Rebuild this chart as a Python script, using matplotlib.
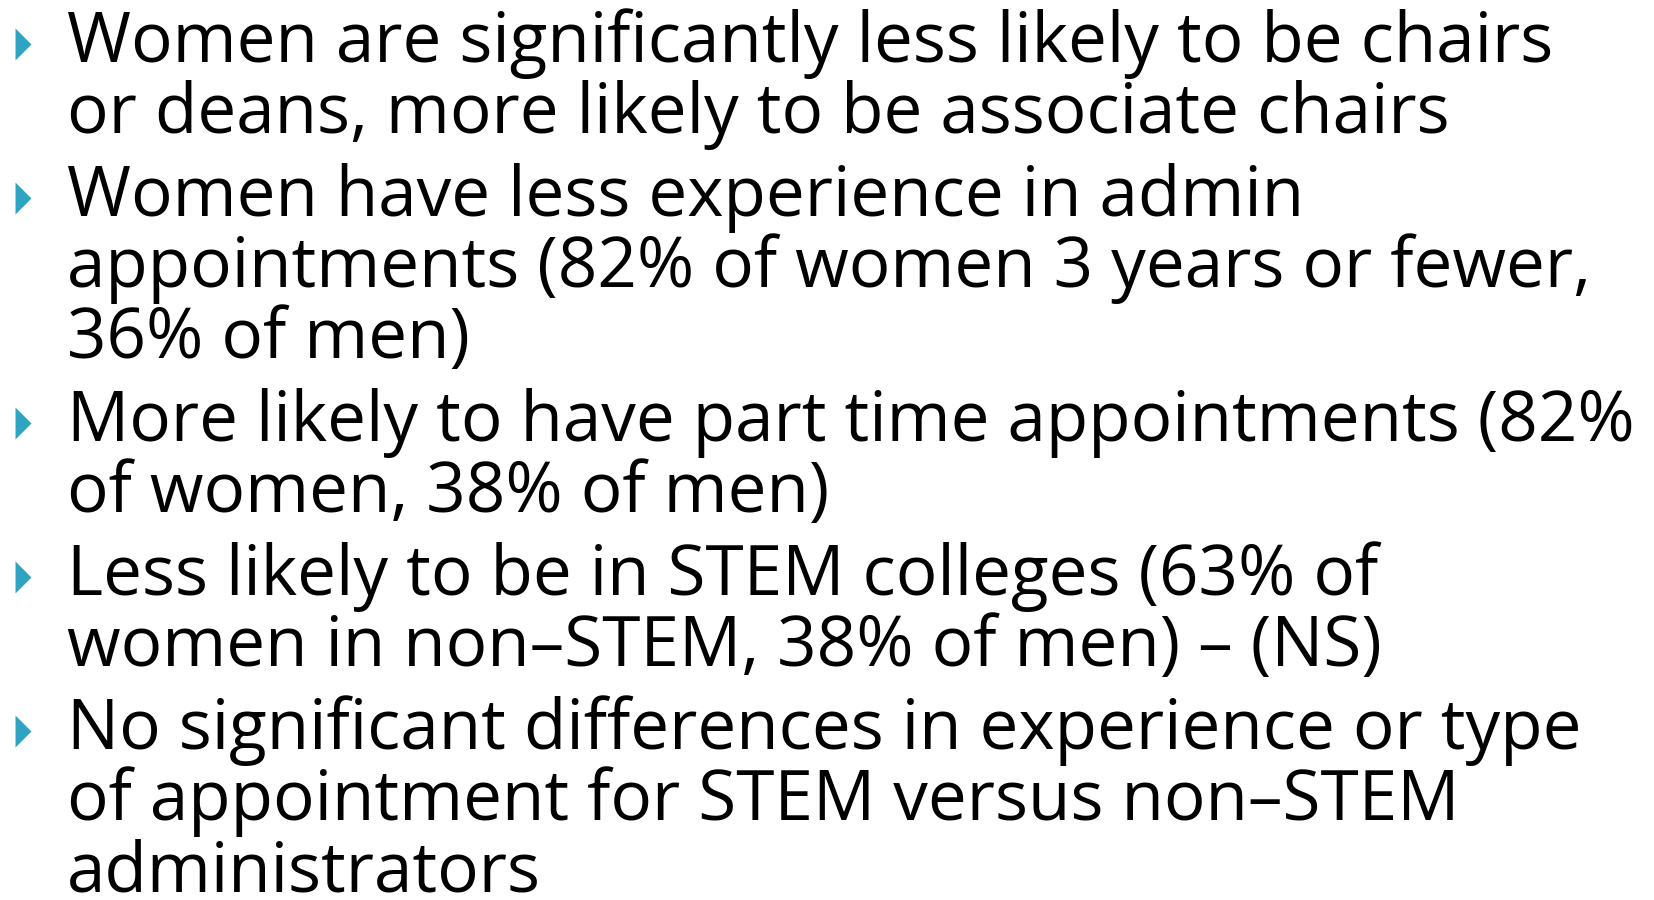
import matplotlib
matplotlib.use("Agg")
import matplotlib.pyplot as plt

# slide text, one list of wrapped lines per bullet
bullet_1 = ["Women are significantly less likely to be chairs",
            "or deans, more likely to be associate chairs"]
bullet_2 = ["Women have less experience in admin",
            "appointments (82% of women 3 years or fewer,",
            "36% of men)"]
bullet_3 = ["More likely to have part time appointments (82%",
            "of women, 38% of men)"]
bullet_4 = ["Less likely to be in STEM colleges (63% of",
            "women in non\u2013STEM, 38% of men) \u2013 (NS)"]
bullet_5 = ["No significant differences in experience or type",
            "of appointment for STEM versus non\u2013STEM",
            "administrators"]
bullets = [bullet_1, bullet_2, bullet_3, bullet_4, bullet_5]

FONT = "Open Sans"
TEAL = "#2ea4c2"

fig = plt.figure(figsize=(16.54, 9), dpi=100)
ax = fig.add_axes([0, 0, 1, 1])
ax.set_xlim(0, 1654)
ax.set_ylim(900, 0)
ax.axis("off")

# fit font size so the widest line spans like the original (~1565 px)
renderer = fig.canvas.get_renderer()
probe = ax.text(0, 0, bullet_3[0], fontsize=40, family=FONT)
w = probe.get_window_extent(renderer).width
probe.remove()
fsize = 40 * 1565 / w

line_gap = 71
bullet_gap = 12
text_x = 67
y = 62
for lines in bullets:
    # bullet triangle sits ~18 px above the first baseline
    ax.plot(23, y - 18, marker=[(-0.5, -1), (-0.5, 1), (0.5, 0)],
            markersize=23, color=TEAL, markeredgewidth=0)
    for ln in lines:
        ax.text(text_x, y, ln, fontsize=fsize, family=FONT,
                va="baseline", ha="left", color="black")
        y += line_gap
    y += bullet_gap

fig.savefig("out.png", dpi=100)
